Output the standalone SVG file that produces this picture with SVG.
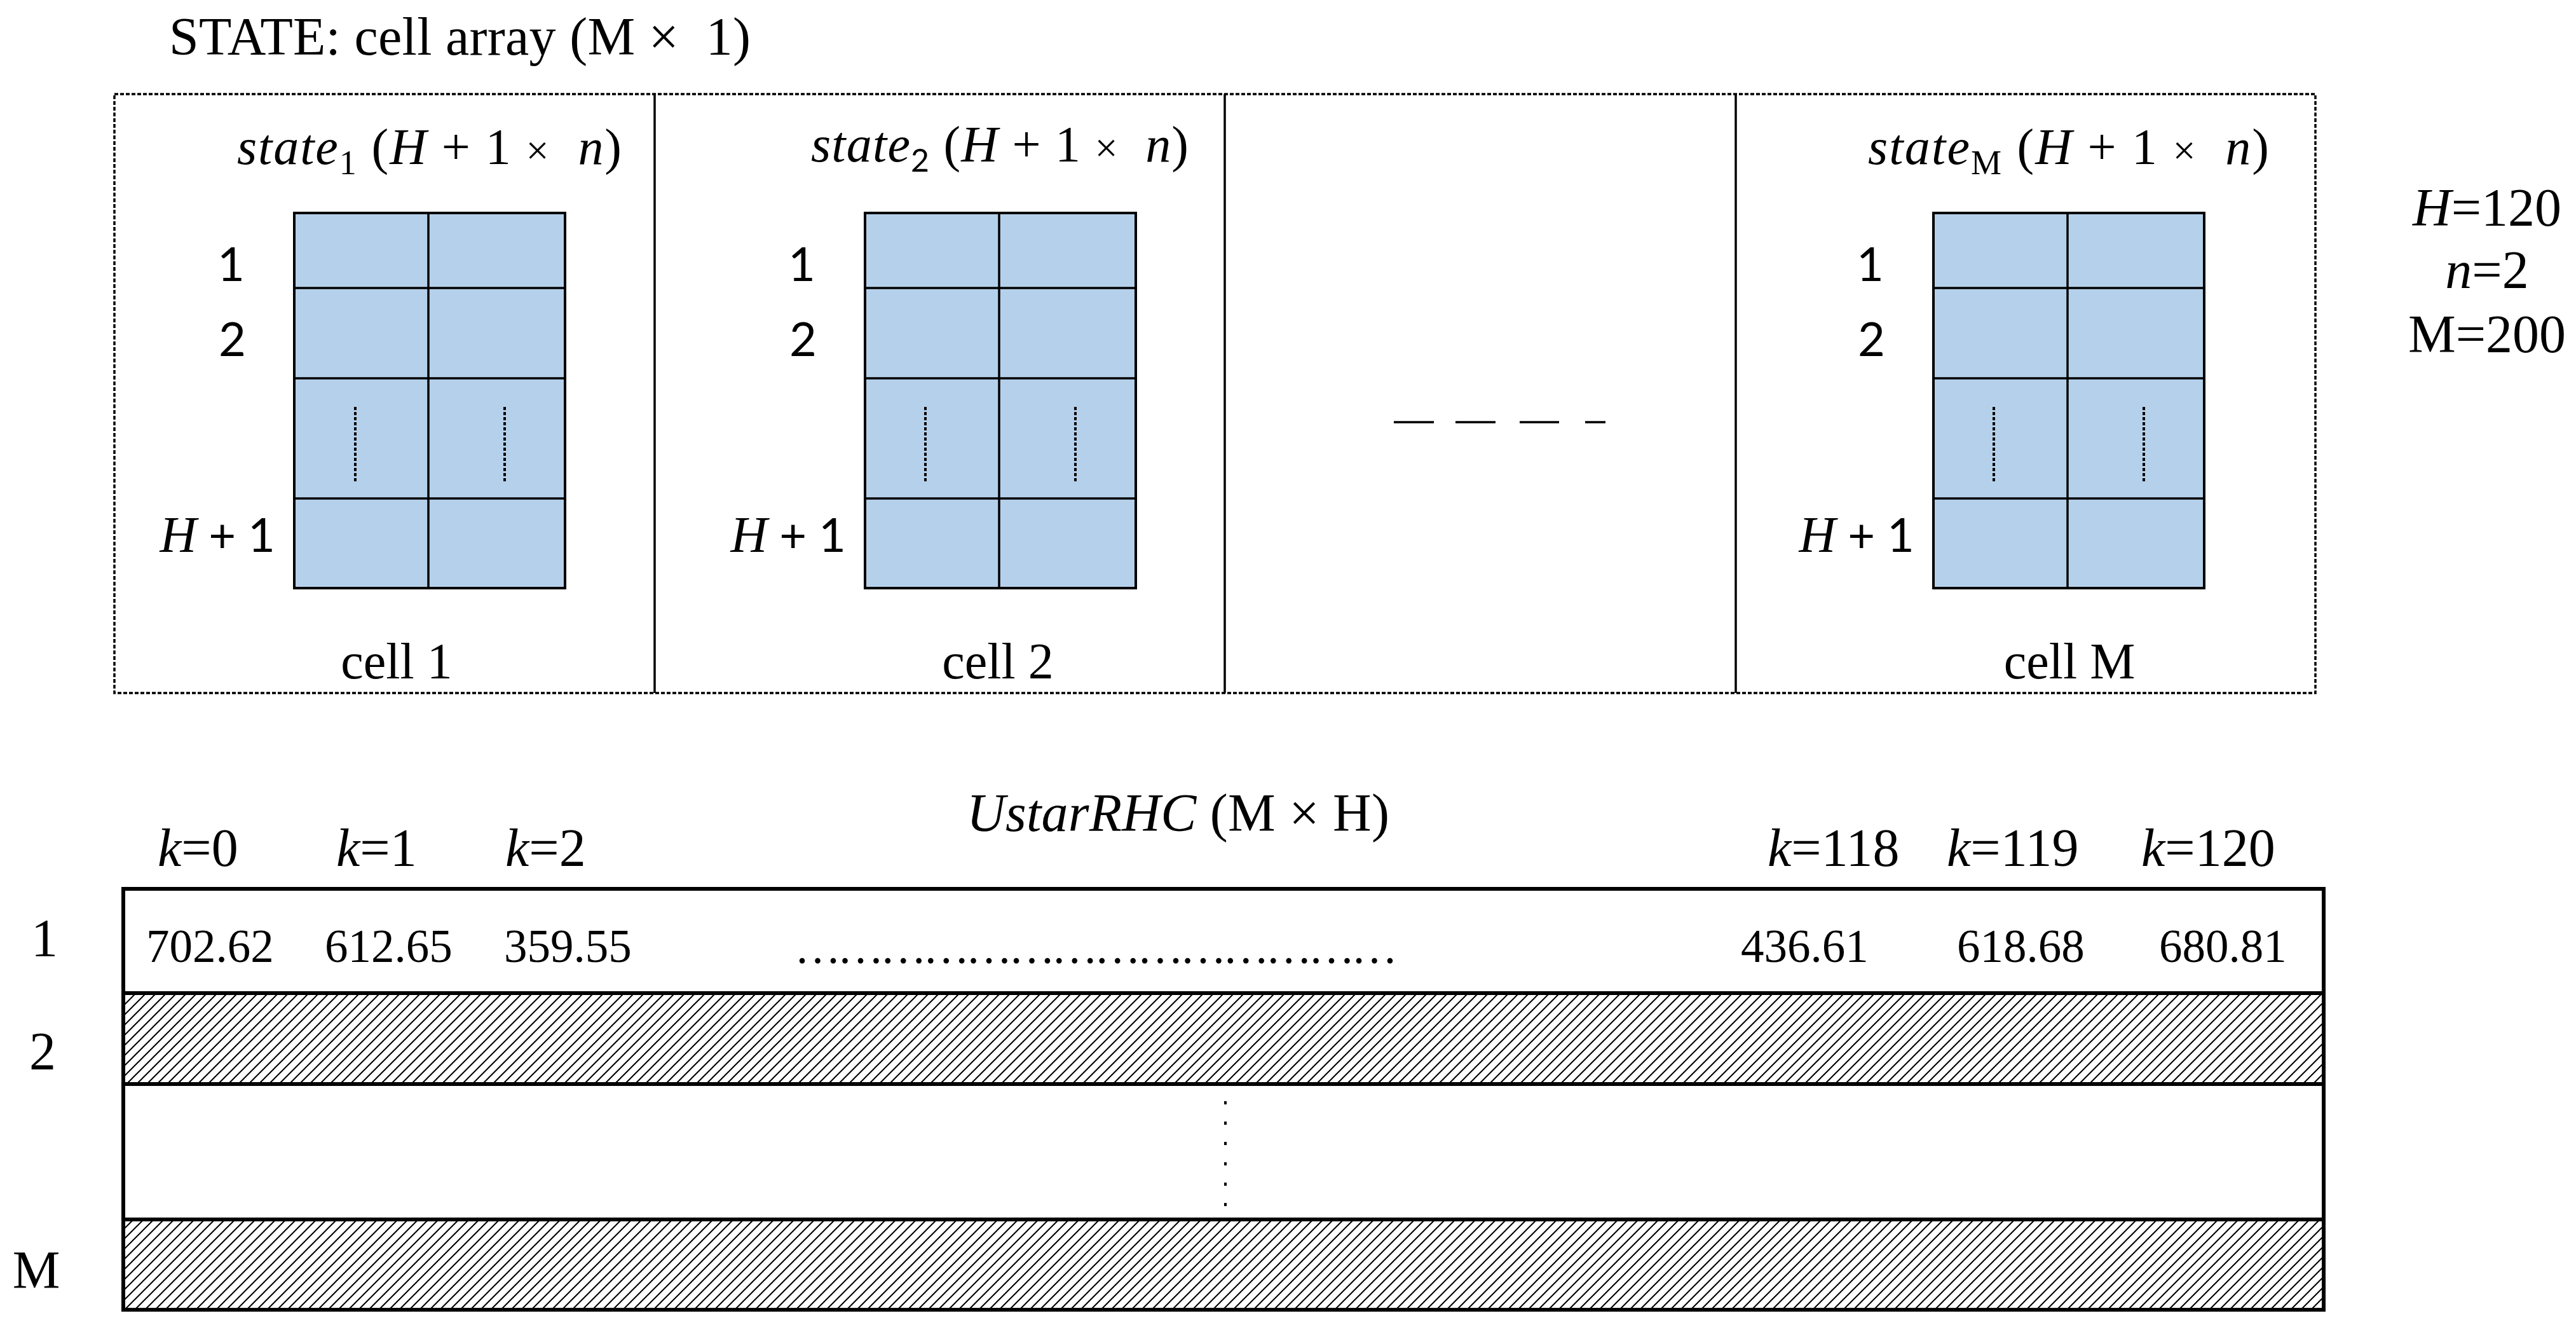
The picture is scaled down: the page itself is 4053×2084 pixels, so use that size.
<svg xmlns="http://www.w3.org/2000/svg" width="4053" height="2084" viewBox="0 0 4053 2084">
  <defs>
    <style>
      .serif { font-family: "Liberation Serif", "Times New Roman", serif; fill: #000; }
      .sans { font-family: Lato, "Liberation Sans", sans-serif; fill: #000; }
      .it { font-style: italic; }
      .title { font-size: 84px; }
      .lbl { font-size: 80px; }
      .rowlbl { font-size: 74px; }
      .val { font-size: 73px; }
      .blue { fill: #B5D0EA; stroke: #000; stroke-width: 4; }
      .grid { stroke: #000; stroke-width: 3.5; fill: none; }
      .dotv { stroke: #000; stroke-width: 4; stroke-dasharray: 5 3; fill: none; }
      .frame { stroke: #000; stroke-width: 3.5; fill: none; stroke-dasharray: 6 3; }
      .divider { stroke: #000; stroke-width: 3.5; fill: none; }
      .thick { stroke: #000; stroke-width: 6; fill: none; }
    </style>
    <pattern id="hatch" patternUnits="userSpaceOnUse" width="16" height="16">
      <rect width="16" height="16" fill="#fff"/>
      <path d="M-4,4 L4,-4 M0,16 L16,0 M12,20 L20,12" stroke="#000" stroke-width="2"/>
    </pattern>
  </defs>
  <rect width="4053" height="2084" fill="#fff"/>

  <!-- Title -->
  <text id="title" class="serif title" x="266" y="86" textLength="915" lengthAdjust="spacing">STATE: cell array (M ×&#160; 1)</text>

  <!-- Outer dashed frame and dividers -->
  <g id="state-frame">
    <rect class="frame" x="180" y="148" width="3463" height="942"/>
    <line class="divider" x1="1030" y1="148" x2="1030" y2="1090"/>
    <line class="divider" x1="1927" y1="148" x2="1927" y2="1090"/>
    <line class="divider" x1="2731" y1="148" x2="2731" y2="1090"/>
  </g>

  <!-- Cell 1 -->
  <g id="cell1">
    <text class="serif lbl" x="373" y="258" textLength="605" lengthAdjust="spacing"><tspan class="it">state</tspan><tspan font-size="54" dy="16">1</tspan><tspan dy="-16"> (</tspan><tspan class="it">H</tspan> + 1 <tspan font-size="64">×</tspan>&#160; <tspan class="it">n</tspan>)</text>
    <rect class="blue" x="463" y="335" width="426" height="590"/>
    <path class="grid" d="M674,335 V925 M463,453 H889 M463,595 H889 M463,784 H889"/>
    <path class="dotv" d="M559,640 V760 M794,640 V760"/>
    <text class="sans rowlbl" x="385" y="442" text-anchor="end">1</text>
    <text class="sans rowlbl" x="387" y="560" text-anchor="end">2</text>
    <text class="sans rowlbl" x="433" y="868" text-anchor="end"><tspan class="serif it" font-size="80">H</tspan> + 1</text>
    <text class="serif lbl" x="624" y="1067" text-anchor="middle">cell 1</text>
  </g>

  <!-- Cell 2 -->
  <g id="cell2">
    <text class="serif lbl" x="1276" y="254" textLength="594" lengthAdjust="spacing"><tspan class="it">state</tspan><tspan class="sans" font-size="50" dy="16">2</tspan><tspan dy="-16"> (</tspan><tspan class="it">H</tspan> + 1 <tspan font-size="64">×</tspan>&#160; <tspan class="it">n</tspan>)</text>
    <rect class="blue" x="1361" y="335" width="426" height="590"/>
    <path class="grid" d="M1572,335 V925 M1361,453 H1787 M1361,595 H1787 M1361,784 H1787"/>
    <path class="dotv" d="M1456,640 V760 M1692,640 V760"/>
    <text class="sans rowlbl" x="1283" y="442" text-anchor="end">1</text>
    <text class="sans rowlbl" x="1285" y="560" text-anchor="end">2</text>
    <text class="sans rowlbl" x="1331" y="868" text-anchor="end"><tspan class="serif it" font-size="80">H</tspan> + 1</text>
    <text class="serif lbl" x="1570" y="1067" text-anchor="middle">cell 2</text>
  </g>

  <!-- Ellipsis cell -->
  <g id="cell-dots">
    <path d="M2193,664 H2256 M2290,664 H2353 M2391,664 H2453 M2494,664 H2526" stroke="#000" stroke-width="3.5" fill="none"/>
  </g>

  <!-- Cell M -->
  <g id="cellM">
    <text class="serif lbl" x="2939" y="258" textLength="631" lengthAdjust="spacing"><tspan class="it">state</tspan><tspan font-size="54" dy="16">M</tspan><tspan dy="-16"> (</tspan><tspan class="it">H</tspan> + 1 <tspan font-size="64">×</tspan>&#160; <tspan class="it">n</tspan>)</text>
    <rect class="blue" x="3042" y="335" width="426" height="590"/>
    <path class="grid" d="M3253,335 V925 M3042,453 H3468 M3042,595 H3468 M3042,784 H3468"/>
    <path class="dotv" d="M3137,640 V760 M3373,640 V760"/>
    <text class="sans rowlbl" x="2964" y="442" text-anchor="end">1</text>
    <text class="sans rowlbl" x="2966" y="560" text-anchor="end">2</text>
    <text class="sans rowlbl" x="3012" y="868" text-anchor="end"><tspan class="serif it" font-size="80">H</tspan> + 1</text>
    <text class="serif lbl" x="3256" y="1067" text-anchor="middle">cell M</text>
  </g>

  <!-- Parameters -->
  <g id="params">
    <text class="serif title" x="3913" y="355" text-anchor="middle"><tspan class="it">H</tspan>=120</text>
    <text class="serif title" x="3913" y="453" text-anchor="middle"><tspan class="it">n</tspan>=2</text>
    <text class="serif title" x="3913" y="554" text-anchor="middle">M=200</text>
  </g>

  <!-- UstarRHC matrix -->
  <g id="ustar">
    <text class="serif title" x="1521" y="1307" textLength="665" lengthAdjust="spacing"><tspan class="it">UstarRHC</tspan> (M × H)</text>
    <text class="serif title" x="248" y="1362"><tspan class="it">k</tspan>=0</text>
    <text class="serif title" x="529" y="1362"><tspan class="it">k</tspan>=1</text>
    <text class="serif title" x="795" y="1362"><tspan class="it">k</tspan>=2</text>
    <text class="serif title" x="2781" y="1362"><tspan class="it">k</tspan>=118</text>
    <text class="serif title" x="3063" y="1362"><tspan class="it">k</tspan>=119</text>
    <text class="serif title" x="3369" y="1362"><tspan class="it">k</tspan>=120</text>

    <rect x="194" y="1562" width="3462" height="143" fill="url(#hatch)"/>
    <rect x="194" y="1918" width="3462" height="142" fill="url(#hatch)"/>
    <rect class="thick" x="194" y="1398" width="3462" height="662"/>
    <path class="thick" d="M194,1562 H3656 M194,1705 H3656 M194,1918 H3656"/>

    <text class="serif val" x="230" y="1513">702.62</text>
    <text class="serif val" x="511" y="1513">612.65</text>
    <text class="serif val" x="793" y="1513">359.55</text>
    <text class="serif val" x="1250" y="1515" textLength="949" lengthAdjust="spacing">……………………………………</text>
    <text class="serif val" x="2739" y="1513">436.61</text>
    <text class="serif val" x="3079" y="1513">618.68</text>
    <text class="serif val" x="3397" y="1513">680.81</text>

    <line x1="1928" y1="1732" x2="1928" y2="1898" stroke="#000" stroke-width="4" stroke-dasharray="5 27"/>

    <text class="serif title" x="70" y="1504" text-anchor="middle">1</text>
    <text class="serif title" x="67" y="1682" text-anchor="middle">2</text>
    <text class="serif title" x="57" y="2026" text-anchor="middle">M</text>
  </g>
</svg>
